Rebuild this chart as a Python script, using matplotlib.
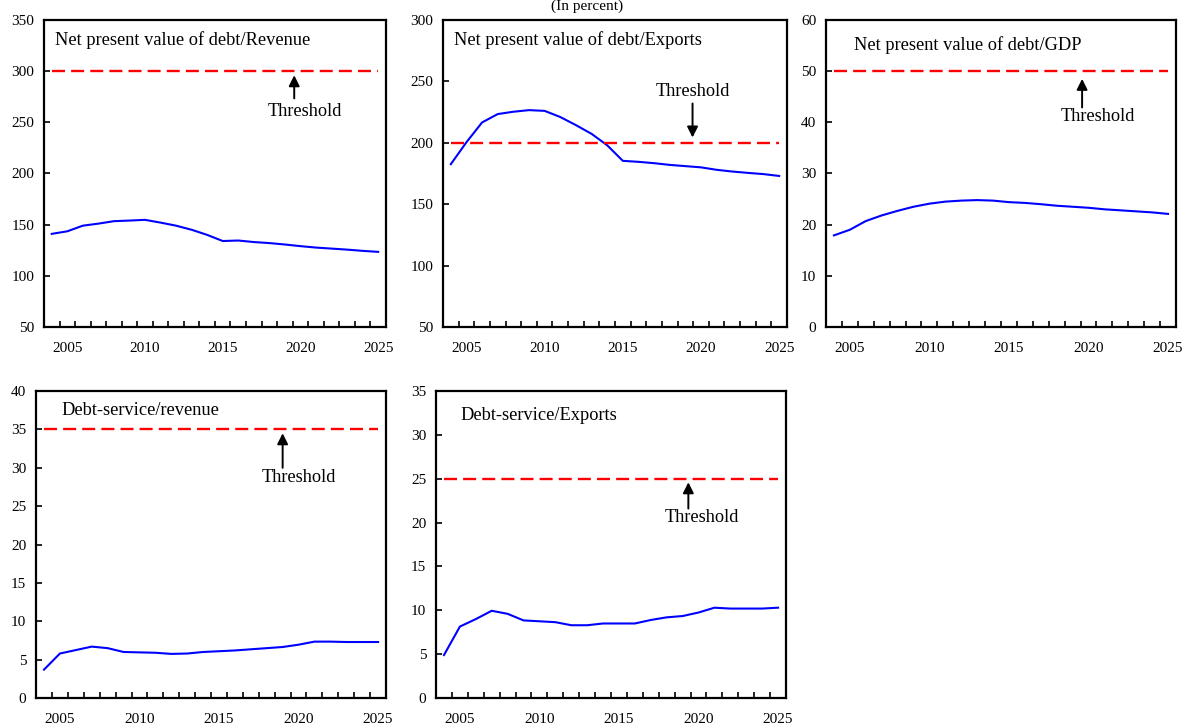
import numpy as np
import matplotlib
matplotlib.use("Agg")
from matplotlib import pyplot as plt

plt.rcParams['font.family'] = ['Liberation Serif', 'DejaVu Serif']

years = np.arange(2004, 2026)

# NPV of debt / revenue
npv_rev = [141, 143.5, 149, 151, 153.4, 154, 154.7, 152, 149, 145, 140, 134,
           134.5, 133, 132, 130.6, 129, 127.6, 126.6, 125.6, 124.4, 123.4]
# NPV of debt / exports
npv_exp = [182.6, 200.5, 216.6, 223.4, 225.3, 226.6, 226, 221, 214.4, 207.3, 198, 185.3,
           184.5, 183.4, 182, 181, 180, 178, 176.6, 175.5, 174.5, 173]
# NPV of debt / GDP
npv_gdp = [17.9, 19.0, 20.7, 21.8, 22.7, 23.5, 24.1, 24.5, 24.7, 24.8, 24.7, 24.4,
           24.25, 24.0, 23.7, 23.5, 23.3, 23.0, 22.8, 22.6, 22.4, 22.1]
# debt service / revenue
ds_rev = [3.7, 5.8, 6.25, 6.7, 6.5, 6.0, 5.95, 5.9, 5.75, 5.8, 6.0, 6.1,
          6.2, 6.35, 6.5, 6.65, 6.95, 7.35, 7.35, 7.3, 7.3, 7.3]
# debt service / exports
ds_exp = [4.9, 8.15, 9.0, 9.95, 9.6, 8.85, 8.75, 8.65, 8.3, 8.3, 8.5, 8.5,
          8.5, 8.9, 9.2, 9.35, 9.75, 10.3, 10.2, 10.2, 10.2, 10.3]

titles = ["Net present value of debt/Revenue", "Net present value of debt/Exports",
          "Net present value of debt/GDP", "Debt-service/revenue", "Debt-service/Exports"]
thresholds = [300, 200, 50, 35, 25]
series = [npv_rev, npv_exp, npv_gdp, ds_rev, ds_exp]
ylims = [(50, 350), (50, 300), (0, 60), (0, 40), (0, 35)]
ysteps = [50, 50, 10, 5, 5]

# axes boxes in figure fraction
boxes = [[0.0372, 0.549, 0.2893, 0.4234],
         [0.3748, 0.549, 0.2910, 0.4234],
         [0.6988, 0.549, 0.2961, 0.4234],
         [0.0305, 0.0372, 0.2961, 0.4234],
         [0.3689, 0.0372, 0.2961, 0.4234]]
title_pos = [(0.032, 0.935), (0.032, 0.935), (0.08, 0.918), (0.073, 0.936), (0.069, 0.92)]
# arrow x, arrow head y, arrow tail y, text x, text y
arrows = [(2019.6, 296, 273.4, 2020.3, 261),
          (2019.46, 204.3, 232, 2019.46, 241.6),
          (2019.6, 48.5, 42.9, 2020.6, 41.2),
          (2019.0, 34.5, 30.0, 2020.0, 28.8),
          (2019.36, 24.6, 21.6, 2020.2, 20.6)]

fig = plt.figure(figsize=(11.82, 7.25), dpi=100)

for i in range(5):
    ax = fig.add_axes(boxes[i])
    ax.plot(years, series[i], color='#0000ff', lw=1.5)
    ax.plot([years[0], years[-1]], [thresholds[i], thresholds[i]], color='#ff0000',
            lw=1.7, dashes=(5.5, 2.6))
    ax.set_xlim(2003.5, 2025.5)
    ax.set_ylim(*ylims[i])
    ax.set_yticks(np.arange(ylims[i][0], ylims[i][1] + 0.1, ysteps[i]))
    ax.set_xticks([2005, 2010, 2015, 2020, 2025])
    ax.set_xticks(np.arange(2004.5, 2025, 1), minor=True)
    ax.tick_params(axis='x', which='major', length=0, pad=11, labelsize=11)
    ax.tick_params(axis='x', which='minor', direction='in', length=4.5, width=1.2)
    ax.tick_params(axis='y', direction='in', length=4.5, width=1.2, pad=7, labelsize=11)
    for s in ax.spines.values():
        s.set_linewidth(1.6)
    ax.text(title_pos[i][0], title_pos[i][1], titles[i], transform=ax.transAxes,
            fontsize=13.2, va='center', ha='left')
    ax_x, head, tail, tx, ty = arrows[i]
    ax.annotate('', xy=(ax_x, head), xytext=(ax_x, tail),
                arrowprops=dict(arrowstyle='-|>', color='black', lw=1.4,
                                mutation_scale=16, shrinkA=0, shrinkB=0))
    ax.text(tx, ty, "Threshold", fontsize=13.2, ha='center', va='center')

fig.text(0.497, 1.0, "(In percent)", fontsize=11, ha='center', va='top')

fig.savefig("out.png", dpi=100)
